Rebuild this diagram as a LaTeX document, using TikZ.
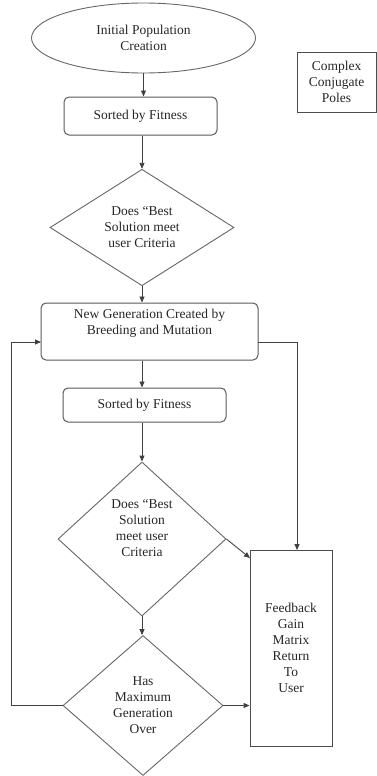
\documentclass[tikz,border=0pt]{standalone}
\usepackage{fontspec}
\setmainfont{Liberation Serif}
\usetikzlibrary{shapes.geometric,arrows.meta}
\begin{document}
\begin{tikzpicture}[x=1pt,y=-1pt,
  every node/.style={font=\fontsize{13.5}{16}\selectfont, align=center, text=black!85, inner sep=0pt},
  ln/.style={draw=black!75, line width=0.9pt},
  arr/.style={ln, -{Triangle[length=6pt,width=5pt]}},
  rbox/.style={draw=black!65, line width=1pt, rounded corners=5pt, rectangle},
  sbox/.style={draw=black!70, line width=0.9pt, rectangle},
  dia/.style={diamond, draw=black!60, line width=0.9pt},
  ell/.style={ellipse, draw=black!60, line width=0.9pt}]
\useasboundingbox (0,0) rectangle (377,776);
\node[ell, minimum width=224pt, minimum height=70pt] (init) at (143.5,38) {Initial Population\\Creation};
\node[rbox, minimum width=153pt, minimum height=38pt] (s1) at (140.5,116) {Sorted by Fitness};
\node[sbox, minimum width=79pt, minimum height=60pt] (ccp) at (336.5,82) {Complex\\Conjugate\\Poles};
\node[dia, minimum width=184pt, minimum height=110pt] (d1) at (142,227.5) {Does “Best\\Solution meet\\user Criteria};
\node[rbox, minimum width=217pt, minimum height=57pt] (b2) at (149.5,331.5) {New Generation Created by\\Breeding and Mutation\\[4pt]};
\node[rbox, minimum width=163pt, minimum height=34pt] (s2) at (144.5,405) {Sorted by Fitness};
\node[dia, minimum width=168pt, minimum height=154pt] (d2) at (142,539) {Does “Best\\Solution\\meet user\\Criteria\\[6pt]};
\node[dia, minimum width=160pt, minimum height=140pt] (d3) at (143,705.5) {Has\\Maximum\\Generation\\Over};
\node[sbox, minimum width=82pt, minimum height=196pt] (fb) at (291,648) {Feedback\\Gain\\Matrix\\Return\\To\\User};
\coordinate (fbin) at (250,558);
\coordinate (l2) at (41,342);
\coordinate (r2) at (258,342);
\coordinate (fbtop) at (297,550);
\draw[arr] (init.south) -- (init.south |- s1.north);
\draw[arr] (d1.north |- s1.south) -- (d1.north);
\draw[arr] (d1.south) -- (d1.south |- b2.north);
\draw[arr] (d1.south |- b2.south) -- (d1.south |- s2.north);
\draw[arr] (d2.north |- s2.south) -- (d2.north);
\draw[arr] (d2.south) -- (d2.south |- d3.north);
\draw[arr] (d2.east) -- (fbin);
\draw[arr] (d3.east) -- (d3.east -| fb.west);
\draw[arr] (d3.west) -- ++(-51,0) |- (l2);
\draw[arr] (r2) -| (fbtop);
\end{tikzpicture}
\end{document}
